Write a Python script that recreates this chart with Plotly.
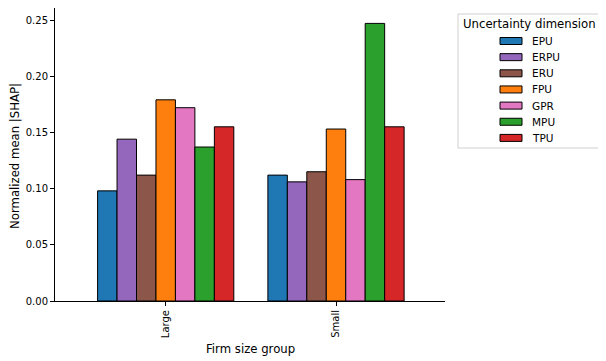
import plotly.graph_objects as go

groups = ["Large", "Small"]
dimensions = ["EPU", "ERPU", "ERU", "FPU", "GPR", "MPU", "TPU"]
colors = ["#1f77b4", "#9467bd", "#8c564b", "#ff7f0e", "#e377c2", "#2ca02c", "#d62728"]

# normalized mean |SHAP| per group, one list per dimension
epu = [0.098, 0.112]
erpu = [0.144, 0.106]
eru = [0.112, 0.115]
fpu = [0.179, 0.153]
gpr = [0.172, 0.108]
mpu = [0.137, 0.247]
tpu = [0.155, 0.155]
values = [epu, erpu, eru, fpu, gpr, mpu, tpu]

font = "DejaVu Sans"

# figure size/margins (page has an 8px body margin)
W, H = 598, 353
L, R, T, B = 47, 161, 0, 60
OFF = 8
pw, ph = W - L - R, H - T - B


def paper(xpix, ypix):
    # page pixel -> paper coords
    return (xpix - OFF - L) / pw, (H - B - (ypix - OFF)) / ph


def label(text, xpix, ypix, size, xanchor="center", angle=0):
    x, y = paper(xpix, ypix)
    fig.add_annotation(text=text, x=x, y=y, xref="paper", yref="paper",
                       xanchor=xanchor, yanchor="middle", textangle=angle,
                       showarrow=False, font=dict(size=size))


fig = go.Figure()
for name, vals, col in zip(dimensions, values, colors):
    fig.add_trace(
        go.Bar(
            x=groups,
            y=vals,
            name=name,
            marker=dict(color=col, line=dict(color="black", width=1)),
            showlegend=False,
        )
    )

fig.update_layout(
    width=W,
    height=H,
    barmode="group",
    bargap=0.2,
    bargroupgap=0,
    plot_bgcolor="white",
    paper_bgcolor="white",
    font=dict(family=font, size=10, color="black"),
    margin=dict(l=L, r=R, t=T, b=B),
)
fig.update_xaxes(
    range=[-0.65, 1.64],
    automargin=False,
    showline=True,
    linecolor="black",
    linewidth=1,
    ticks="outside",
    ticklen=4,
    tickcolor="black",
    tickangle=-90,
    tickfont=dict(size=10),
    showgrid=False,
)
fig.update_yaxes(
    range=[0, 0.2607],
    automargin=False,
    showline=True,
    linecolor="black",
    linewidth=1,
    ticks="outside",
    ticklen=4,
    tickcolor="black",
    tickvals=[0, 0.05, 0.10, 0.15, 0.20, 0.25],
    tickformat=".2f",
    tickfont=dict(size=10),
    showgrid=False,
    zeroline=False,
)

# axis titles
label("Firm size group", 250, 349, 11.7)
label("Normalized mean |SHAP|", 15, 156, 11.7, angle=-90)

# legend (drawn by hand to match the boxed matplotlib-style legend)
x0, y0 = paper(458, 14)
x1, y1 = paper(601, 148)
fig.add_shape(type="rect", xref="paper", yref="paper", x0=x0, y0=y0, x1=x1, y1=y1,
              line=dict(color="#d0d0d0", width=1), fillcolor="white")
label("Uncertainty dimension", 529.5, 24, 11.7)
for i, (name, col) in enumerate(zip(dimensions, colors)):
    yc = 41 + 16.15 * i
    sx0, sy0 = paper(500, yc - 3.5)
    sx1, sy1 = paper(522, yc + 3.5)
    fig.add_shape(type="rect", xref="paper", yref="paper", x0=sx0, y0=sy0, x1=sx1, y1=sy1,
                  line=dict(color="black", width=1), fillcolor=col)
    label(name, 530, yc, 10.5, xanchor="left")

fig.write_html("out.html")
